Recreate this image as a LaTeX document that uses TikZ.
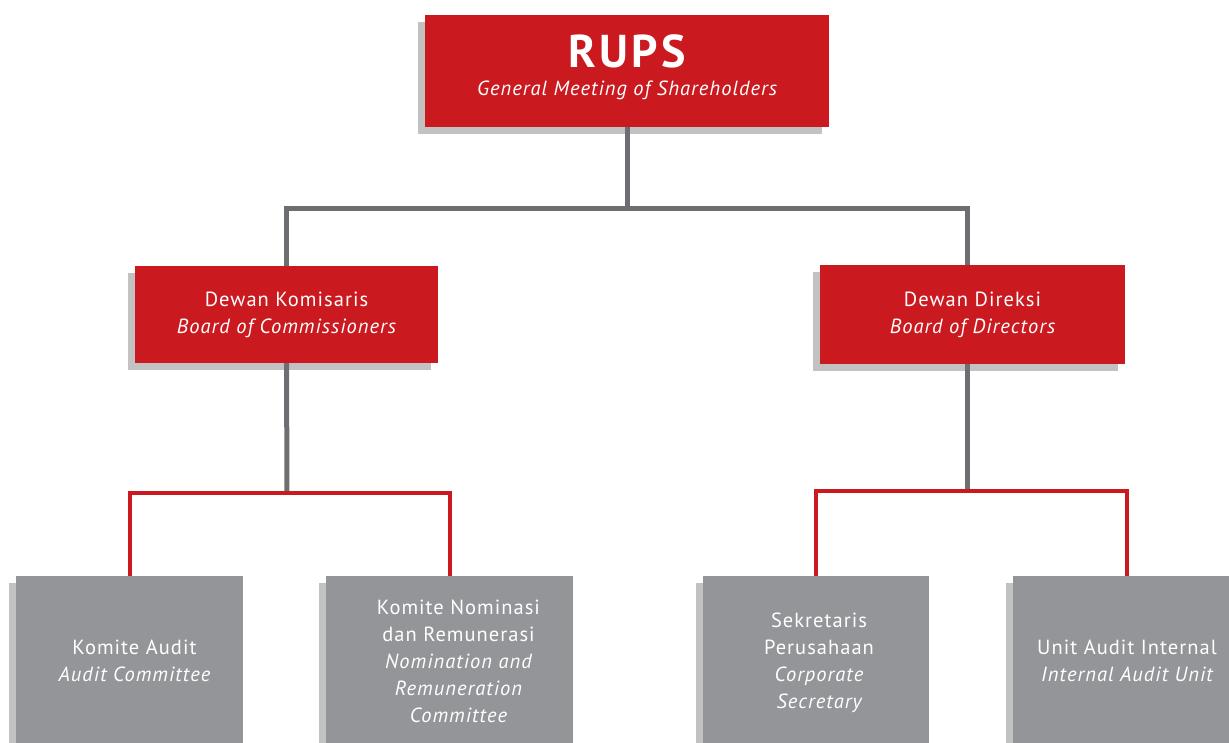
\documentclass[tikz,border=0pt]{standalone}
\usepackage{fontspec}
\setmainfont[LetterSpace=5]{PT Sans}
\usetikzlibrary{shadows}
\definecolor{rupsred}{HTML}{CB1920}
\definecolor{boxgray}{HTML}{939598}
\definecolor{shadowgray}{HTML}{C2C2C2}
\definecolor{linegray}{HTML}{6D6E71}
\newcommand\shiftc[2]{\hspace*{#1}\raisebox{-3pt}[\height][\depth]{\begin{tabular}{@{}c@{}}#2\end{tabular}}}
\begin{document}
\begin{tikzpicture}[x=1pt,y=-1pt,
  shadowed/.style={drop shadow={shadow xshift=-7pt, shadow yshift=-7pt, fill=shadowgray, opacity=1}},
  redbox/.style={shadowed, fill=rupsred, text=white, inner sep=0pt, align=center, font=\fontsize{20.5}{27}\selectfont},
  graybox/.style={shadowed, fill=boxgray, text=white, inner sep=0pt, font=\fontsize{20.5}{27}\selectfont, minimum height=168pt},
  grayline/.style={draw=linegray, line width=5pt},
  redline/.style={draw=rupsred, line width=4pt}]
\useasboundingbox (0,0) rectangle (1229,743);
\clip (0,0) rectangle (1229,743);
\coordinate (jtop) at (627,209);
\coordinate (jl) at (287,493);
\coordinate (jr) at (967,491);
\node[redbox, minimum width=404pt, minimum height=112pt] (rups) at (627,71)
  {{\fontsize{46}{46}\selectfont\bfseries\addfontfeatures{LetterSpace=7}RUPS}\\[1pt]{\itshape General Meeting of Shareholders}\\[-16pt]\mbox{}};
\node[redbox, minimum width=303pt, minimum height=97pt] (boc) at (286.5,314.5)
  {Dewan Komisaris\\\itshape Board of Commissioners};
\node[redbox, minimum width=305pt, minimum height=99pt] (bod) at (972.5,314.5)
  {Dewan Direksi\\\itshape Board of Directors};
\node[graybox, minimum width=227pt] (ka) at (129.5,660)
  {\shiftc{10pt}{Komite Audit\\\itshape Audit Committee}};
\node[graybox, minimum width=247pt] (kn) at (449.5,660)
  {\shiftc{18pt}{Komite Nominasi\\dan Remunerasi\\\itshape Nomination and\\\itshape Remuneration\\\itshape Committee}};
\node[graybox, minimum width=226pt] (sk) at (816,660)
  {\shiftc{6pt}{Sekretaris\\Perusahaan\\\itshape Corporate\\\itshape Secretary}};
\node[graybox, minimum width=228pt] (ua) at (1127,660)
  {\shiftc{0pt}{Unit Audit Internal\\\itshape Internal Audit Unit}};
\draw[grayline] (rups.south) -- (jtop);
\draw[grayline] (boc.north) |- (jtop) -| (bod.north -| jr);
\draw[grayline] (boc.south) -- (jl);
\draw[grayline] (bod.south -| jr) -- (jr);
\draw[redline] (ka.north) |- (jl) -| (kn.north);
\draw[redline] (sk.north) |- (jr) -| (ua.north);
\end{tikzpicture}
\end{document}
